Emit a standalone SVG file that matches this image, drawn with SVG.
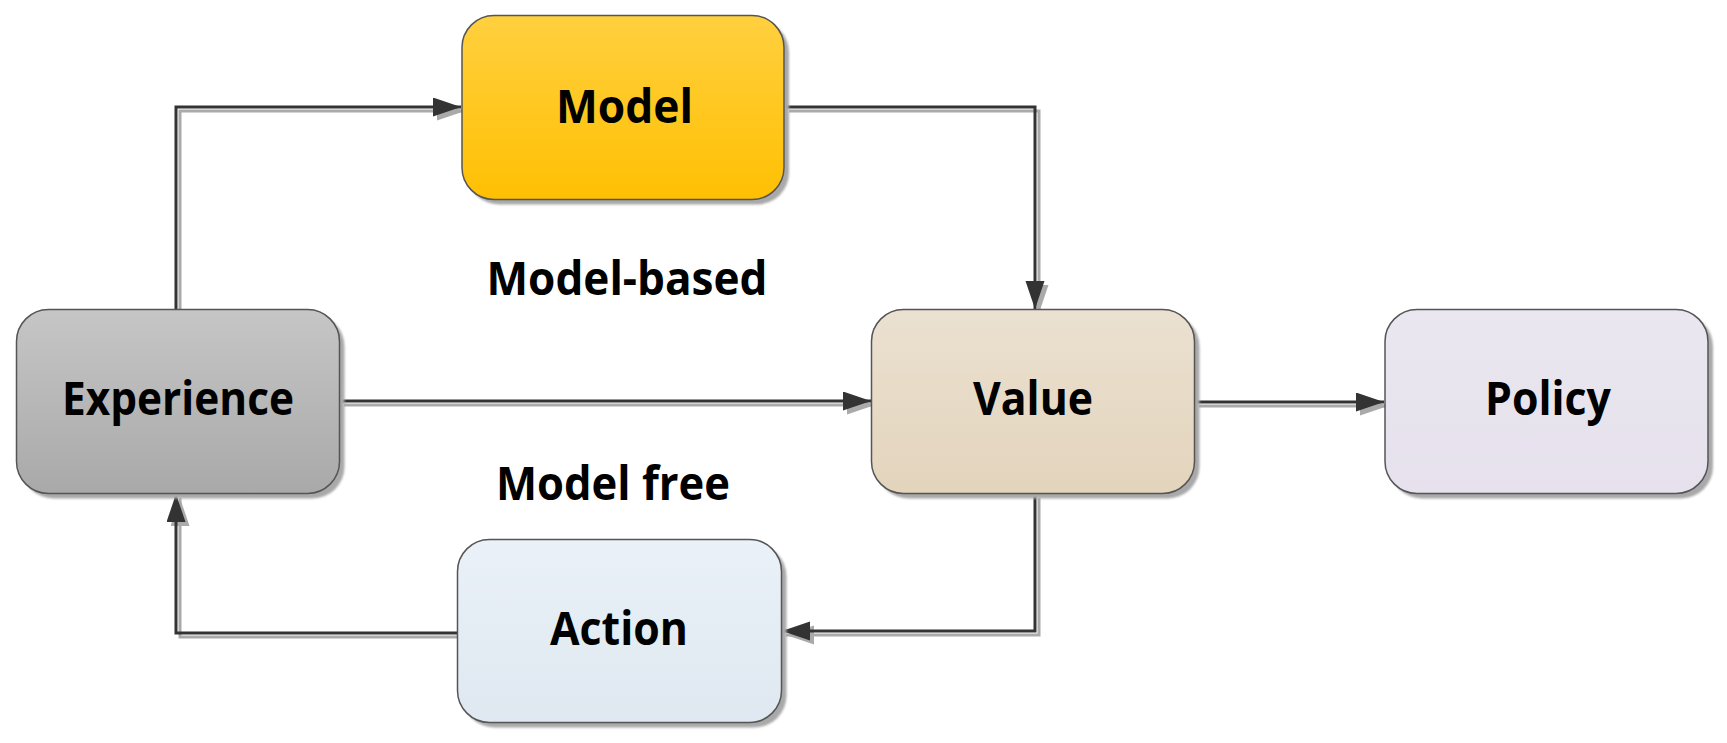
<svg xmlns="http://www.w3.org/2000/svg" xmlns:xlink="http://www.w3.org/1999/xlink" width="1727" height="743" viewBox="0 0 1727 743">
<style>
.box{stroke:#555;stroke-width:1.5}
.shd{fill:#a9a9a9;filter:url(#blur)}
.lbl{font-family:"Open Sans","Liberation Sans",sans-serif;font-weight:bold;font-size:47px;fill:#000;text-anchor:middle}
.ln{fill:none;stroke:#333;stroke-width:3;marker-end:url(#ah)}
.lns{fill:none;stroke:#aaa;stroke-width:3;marker-end:url(#ahs)}
</style>
<defs>
<filter id="blur" x="-5%" y="-5%" width="110%" height="110%"><feGaussianBlur stdDeviation="1"/></filter>
<linearGradient id="gModel" x1="0" y1="0" x2="0" y2="1"><stop offset="0" stop-color="#ffd03f"/><stop offset="1" stop-color="#ffc003"/></linearGradient>
<linearGradient id="gExp" x1="0" y1="0" x2="0" y2="1"><stop offset="0" stop-color="#c6c6c6"/><stop offset="1" stop-color="#a9a9a9"/></linearGradient>
<linearGradient id="gVal" x1="0" y1="0" x2="0" y2="1"><stop offset="0" stop-color="#ebe1d1"/><stop offset="1" stop-color="#e3d4bc"/></linearGradient>
<linearGradient id="gPol" x1="0" y1="0" x2="0" y2="1"><stop offset="0" stop-color="#eae7f0"/><stop offset="1" stop-color="#e6e1ec"/></linearGradient>
<linearGradient id="gAct" x1="0" y1="0" x2="0" y2="1"><stop offset="0" stop-color="#eaf1f8"/><stop offset="1" stop-color="#dfe8f0"/></linearGradient>
<marker id="ah" markerUnits="userSpaceOnUse" markerWidth="30" markerHeight="22" refX="28" refY="9.5" orient="auto"><path d="M0,0 L28,9.5 L0,19 Z" fill="#333"/></marker>
<marker id="ahs" markerUnits="userSpaceOnUse" markerWidth="30" markerHeight="22" refX="28" refY="9.5" orient="auto"><path d="M0,0 L28,9.5 L0,19 Z" fill="#aaa"/></marker>
<path id="c1" d="M176,309 V107 H461"/>
<path id="c2" d="M785,107 H1035 V309"/>
<path id="c3" d="M340,401 H871"/>
<path id="c4" d="M1195,402 H1384"/>
<path id="c5" d="M1035,494 V631 H782"/>
<path id="c6" d="M457,633 H176 V494"/>
</defs>
<rect width="1727" height="743" fill="#fff"/>
<g id="connectors">
<g transform="translate(4,4)">
<use xlink:href="#c1" class="lns"/><use xlink:href="#c2" class="lns"/><use xlink:href="#c3" class="lns"/>
<use xlink:href="#c4" class="lns"/><use xlink:href="#c5" class="lns"/><use xlink:href="#c6" class="lns"/>
</g>
<use xlink:href="#c1" class="ln"/><use xlink:href="#c2" class="ln"/><use xlink:href="#c3" class="ln"/>
<use xlink:href="#c4" class="ln"/><use xlink:href="#c5" class="ln"/><use xlink:href="#c6" class="ln"/>
</g>
<g id="model">
<rect class="shd" x="467" y="20.5" width="322" height="184" rx="32"/>
<rect class="box" x="462" y="15.5" width="322" height="184" rx="32" fill="url(#gModel)"/>
<text class="lbl" x="624.5" y="123" textLength="137" lengthAdjust="spacingAndGlyphs">Model</text>
</g>
<g id="experience">
<rect class="shd" x="21.5" y="314.5" width="323" height="184" rx="32"/>
<rect class="box" x="16.5" y="309.5" width="323" height="184" rx="32" fill="url(#gExp)"/>
<text class="lbl" x="178" y="415" textLength="232" lengthAdjust="spacingAndGlyphs">Experience</text>
</g>
<g id="value">
<rect class="shd" x="876.5" y="314.5" width="323" height="184" rx="32"/>
<rect class="box" x="871.5" y="309.5" width="323" height="184" rx="32" fill="url(#gVal)"/>
<text class="lbl" x="1033" y="415" textLength="120" lengthAdjust="spacingAndGlyphs">Value</text>
</g>
<g id="policy">
<rect class="shd" x="1390" y="314.5" width="323" height="184" rx="32"/>
<rect class="box" x="1385" y="309.5" width="323" height="184" rx="32" fill="url(#gPol)"/>
<text class="lbl" x="1548" y="415" textLength="126" lengthAdjust="spacingAndGlyphs">Policy</text>
</g>
<g id="action">
<rect class="shd" x="462.5" y="544.5" width="324" height="183" rx="32"/>
<rect class="box" x="457.5" y="539.5" width="324" height="183" rx="32" fill="url(#gAct)"/>
<text class="lbl" x="619" y="645" textLength="138" lengthAdjust="spacingAndGlyphs">Action</text>
</g>
<g id="labels">
<text class="lbl" x="627" y="295" textLength="281" lengthAdjust="spacingAndGlyphs">Model-based</text>
<text class="lbl" x="613" y="500" textLength="234" lengthAdjust="spacingAndGlyphs">Model free</text>
</g>
</svg>
